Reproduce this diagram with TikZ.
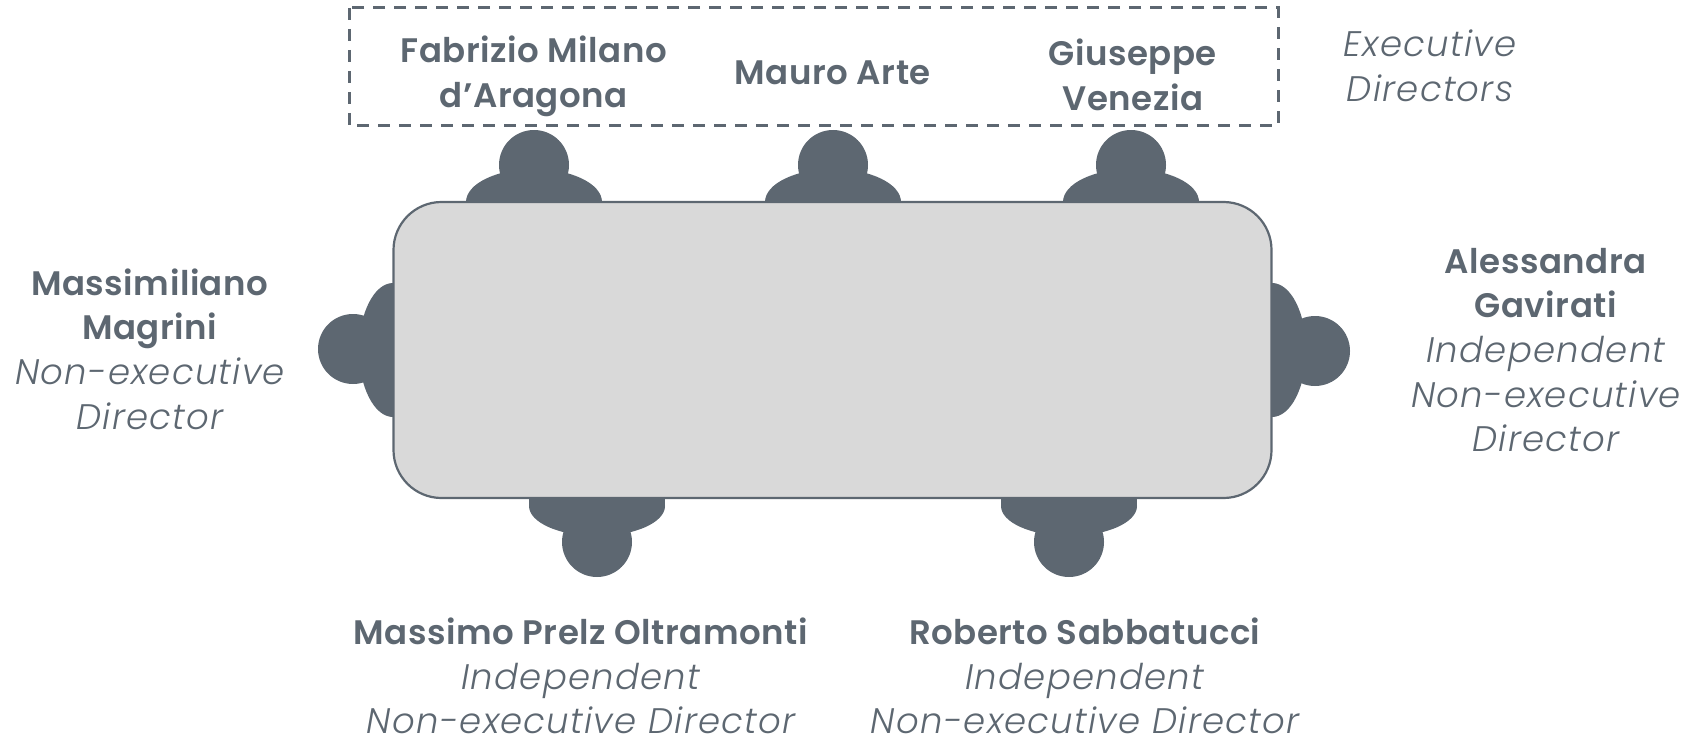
\documentclass[tikz,border=0pt]{standalone}
\usepackage{fontspec}
\setmainfont{Poppins}[BoldFont={Poppins SemiBold}, BoldFeatures={LetterSpace=1.5}, ItalicFont={Poppins Light Italic}, ItalicFeatures={LetterSpace=3.5}]
\definecolor{slate}{HTML}{5D6771}
\definecolor{tabletop}{HTML}{D9D9D9}
\newcommand{\nm}[1]{\textbf{#1}}
\newcommand{\rl}[1]{{\fontsize{35.5}{44.7}\selectfont\itshape #1}}

\begin{document}
\begin{tikzpicture}[x=1pt,y=-1pt]

	\tikzstyle{every node}=[font=\fontsize{34}{44.7}\selectfont, text=slate, align=center]
	\tikzstyle{head}=[circle, fill=slate, inner sep=0pt, minimum size=70pt]
	\tikzstyle{shoulders}=[fill=slate]

	\useasboundingbox (0,0) rectangle (1683,741);

	%executive directors box
	\draw[slate, line width=3pt, dash pattern=on 12pt off 9pt] (349,8) rectangle (1278,126);

	%top row
	\foreach \px/\pname in {534/headFabrizio, 833/headMauro, 1131/headGiuseppe}{
		\fill[shoulders] (\px,202) ellipse [x radius=68, y radius=33];
		\node[head] (\pname) at (\px,165) {};
	}

	%bottom row
	\foreach \px/\pname in {597/headMassimo, 1069/headRoberto}{
		\fill[shoulders] (\px-68,498) rectangle (\px+68,506);
		\fill[shoulders] (\px,506) ellipse [x radius=68, y radius=30];
		\node[head] (\pname) at (\px,542) {};
	}

	%ends of the table
	\fill[shoulders] (393,350) ellipse [x radius=34, y radius=67];
	\node[head] (headMassimiliano) at (353,349) {};
	\fill[shoulders] (1272,350) ellipse [x radius=34, y radius=67];
	\node[head] (headAlessandra) at (1315,351) {};

	\node[draw=slate, fill=tabletop, line width=2.2pt, rounded corners=48pt, minimum width=878pt, minimum height=296pt] (table) at (832.5,350) {};

	%names
	\node (fabrizio) at (534,76) {\nm{Fabrizio Milano}\\\nm{d'Aragona}};
	\node (mauro) at (833,73) {\nm{Mauro Arte}};
	\node (giuseppe) at (1133,75) {\nm{Giuseppe}\\\nm{Venezia}};
	\node (executive) at (1430,66) {\rl{Executive}\\\rl{Directors}};
	\node (massimiliano) at (150,349) {\nm{Massimiliano}\\\nm{Magrini}\\\rl{Non-executive}\\\rl{Director}};
	\node (alessandra) at (1546,350) {\nm{Alessandra}\\\nm{Gavirati}\\\rl{Independent}\\\rl{Non-executive}\\\rl{Director}};
	\node (massimo) at (581,676) {\nm{Massimo Prelz Oltramonti}\\\rl{Independent}\\\rl{Non-executive Director}};
	\node (roberto) at (1085,676) {\nm{Roberto Sabbatucci}\\\rl{Independent}\\\rl{Non-executive Director}};

\end{tikzpicture}
\end{document}
